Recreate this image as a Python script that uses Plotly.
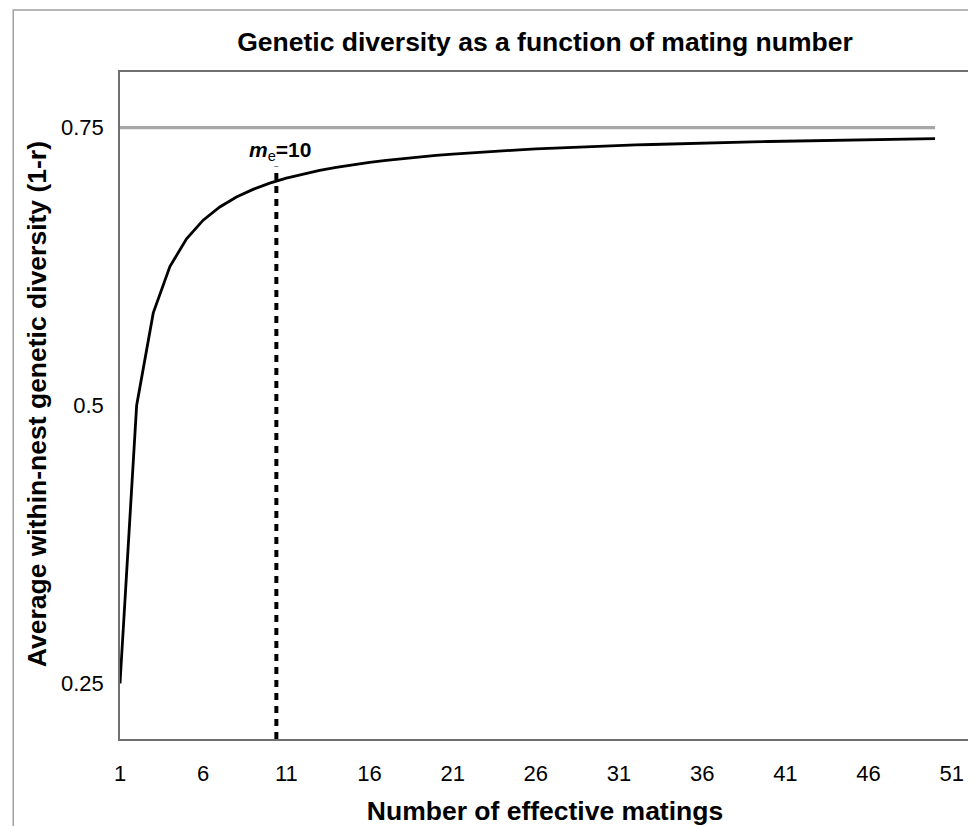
import plotly.graph_objects as go

# Data
matings = list(range(1, 51))
diversity = [0.25, 0.5, 0.5833, 0.625, 0.65, 0.6667, 0.6786, 0.6875, 0.6944, 0.7,
             0.7045, 0.7083, 0.7115, 0.7143, 0.7167, 0.7188, 0.7206, 0.7222, 0.7237, 0.725,
             0.7262, 0.7273, 0.7283, 0.7292, 0.73, 0.7308, 0.7315, 0.7321, 0.7328, 0.7333,
             0.7339, 0.7344, 0.7348, 0.7353, 0.7357, 0.7361, 0.7365, 0.7368, 0.7372, 0.7375,
             0.7378, 0.7381, 0.7384, 0.7386, 0.7389, 0.7391, 0.7394, 0.7396, 0.7398, 0.74]
asymptote_x = [1, 50]
asymptote_y = [0.75, 0.75]
me_x = [10.4, 10.4]
me_y = [0.2, 0.715]
x_ticks = [1, 6, 11, 16, 21, 26, 31, 36, 41, 46, 51]
y_ticks = [0.25, 0.5, 0.75]
y_tick_labels = ["0.25", "0.5", "0.75"]

FONT = "Liberation Sans, Arial, Helvetica, sans-serif"

fig = go.Figure()
fig.add_trace(go.Scatter(x=asymptote_x, y=asymptote_y, mode="lines",
                         line=dict(color="#A6A6A6", width=3.3), showlegend=False,
                         hoverinfo="skip"))
fig.add_trace(go.Scatter(x=me_x, y=me_y, mode="lines",
                         line=dict(color="black", width=4, dash="7px,6px"),
                         showlegend=False, hoverinfo="skip"))
fig.add_trace(go.Scatter(x=matings, y=diversity, mode="lines",
                         line=dict(color="black", width=2.8), showlegend=False))

fig.add_annotation(x=me_x[0], y=0.7285, text="<b><i>m</i></b><sub>e</sub><b>=10</b>",
                   showarrow=False, font=dict(family=FONT, size=21, color="black"),
                   xanchor="center", yanchor="middle", xshift=4)

# y-axis title as an annotation for precise placement
fig.add_annotation(xref="paper", yref="paper", x=-0.0974, y=0.5022,
                   text="<b>Average within-nest genetic diversity (1-r)</b>",
                   textangle=-90, showarrow=False, xanchor="center", yanchor="middle",
                   font=dict(family=FONT, size=26.5, color="black"))

# outer chart frame
fig.add_shape(type="rect", xref="paper", yref="paper",
              x0=-0.1256, x1=1.0023, y0=-0.2, y1=1.093,
              line=dict(color="#A0A0A0", width=1.5), fillcolor="rgba(0,0,0,0)",
              layer="below")

fig.update_layout(
    width=968, height=818,
    margin=dict(l=112, r=4, t=64, b=87),
    paper_bgcolor="white", plot_bgcolor="white",
    font=dict(family=FONT, color="black"),
    title=dict(text="<b>Genetic diversity as a function of mating number</b>",
               x=0.5, xref="paper", xanchor="center", y=1 - 34 / 818, yanchor="middle",
               font=dict(family=FONT, size=26.5, color="black")),
    xaxis=dict(range=[1, 52.1], tickvals=x_ticks, ticks="", showgrid=False,
               zeroline=False, showline=True, linecolor="#707070", linewidth=1.5,
               mirror=True, ticklabelstandoff=14,
               tickfont=dict(family=FONT, size=22, color="black"),
               title=dict(text="<b>Number of effective matings</b>",
                          font=dict(family=FONT, size=26.5, color="black"), standoff=16)),
    yaxis=dict(range=[0.2, 0.8], tickvals=y_ticks, ticktext=y_tick_labels, ticks="",
               showgrid=False, zeroline=False, showline=True, linecolor="#707070",
               linewidth=1.5, mirror=True, ticklabelstandoff=10,
               tickfont=dict(family=FONT, size=22, color="black")),
)

fig.write_html("out.html")
